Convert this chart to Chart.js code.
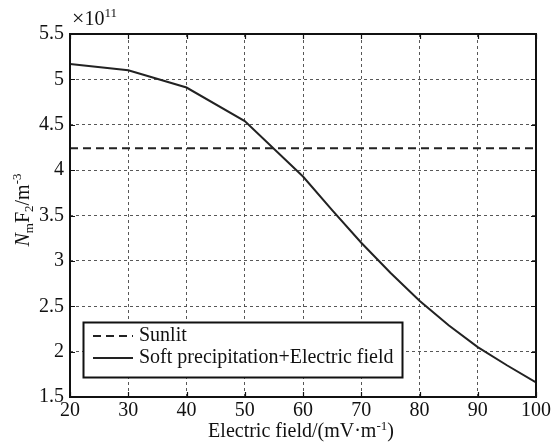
<!DOCTYPE html>
<html>
<head>
<meta charset="utf-8">
<script src="https://cdn.jsdelivr.net/npm/chart.js@4.4.0/dist/chart.umd.min.js"></script>
<style>
  body { margin: 0; background: #fff; }
  #wrap { width: 554px; height: 444px; }
</style>
</head>
<body>
<div id="wrap"><canvas id="chart" width="554" height="444"></canvas></div>
<script>
// electric field values (mV/m)
var fields = [20, 30, 40, 50, 60, 65, 70, 75, 80, 85, 90, 95, 100];
// NmF2 in units of 1e11 m^-3
var softPrecip = [5.17, 5.10, 4.91, 4.54, 3.93, 3.56, 3.20, 2.87, 2.56, 2.29, 2.05, 1.85, 1.66];
var sunlitLevel = 4.24;
var xTicks = [20, 30, 40, 50, 60, 70, 80, 90, 100];
var yTicks = [1.5, 2, 2.5, 3, 3.5, 4, 4.5, 5, 5.5];
var seriesNames = ['Sunlit', 'Soft precipitation+Electric field'];

var FONT = "'Liberation Serif', 'Times New Roman', serif";
Chart.defaults.font.family = FONT;
Chart.defaults.font.size = 20;
Chart.defaults.color = '#111';

function richText(ctx, parts, x, y) {
    // parts: [text, size, shift, italic]
    var cx = x;
    parts.forEach(function(p){
        ctx.font = (p[3] ? 'italic ' : '') + p[1] + 'px ' + FONT;
        ctx.fillText(p[0], cx, y + p[2]);
        cx += ctx.measureText(p[0]).width;
    });
}
function richWidth(ctx, parts) {
    var w = 0;
    parts.forEach(function(p){
        ctx.font = (p[3] ? 'italic ' : '') + p[1] + 'px ' + FONT;
        w += ctx.measureText(p[0]).width;
    });
    return w;
}

var decor = {
    id: 'decor',
    afterDraw: function(chart) {
        var ctx = chart.ctx;
        var a = chart.chartArea;
        var xs = chart.scales.x, ys = chart.scales.y;
        ctx.save();
        ctx.strokeStyle = '#111';
        ctx.lineWidth = 2;
        ctx.setLineDash([]);
        ctx.strokeRect(a.left, a.top, a.right - a.left, a.bottom - a.top);

        // inward ticks on all sides
        ctx.lineWidth = 1.2;
        ctx.beginPath();
        xTicks.forEach(function(v){
            var px = Math.round(xs.getPixelForValue(v)) + 0.5;
            ctx.moveTo(px, a.bottom); ctx.lineTo(px, a.bottom - 5);
            ctx.moveTo(px, a.top); ctx.lineTo(px, a.top + 5);
        });
        yTicks.forEach(function(v){
            var py = Math.round(ys.getPixelForValue(v)) + 0.5;
            ctx.moveTo(a.left, py); ctx.lineTo(a.left + 5, py);
            ctx.moveTo(a.right, py); ctx.lineTo(a.right - 5, py);
        });
        ctx.stroke();

        // legend
        var lx = 83.5, ly = 322.5, lw = 319, lh = 55;
        ctx.fillStyle = '#fff';
        ctx.fillRect(lx, ly, lw, lh);
        ctx.lineWidth = 2;
        ctx.strokeStyle = '#111';
        ctx.strokeRect(lx, ly, lw, lh);
        var rows = [336, 358];
        chart.data.datasets.forEach(function(ds, i){
            ctx.beginPath();
            ctx.lineWidth = 2;
            ctx.strokeStyle = ds.borderColor;
            ctx.setLineDash(ds.borderDash || []);
            ctx.moveTo(93, rows[i]); ctx.lineTo(133, rows[i]);
            ctx.stroke();
            ctx.setLineDash([]);
            ctx.fillStyle = '#111';
            ctx.font = '20px ' + FONT;
            ctx.textBaseline = 'middle';
            ctx.textAlign = 'left';
            ctx.fillText(ds.label, 139, rows[i]);
        });

        ctx.fillStyle = '#111';
        ctx.textBaseline = 'alphabetic';
        ctx.textAlign = 'left';
        // exponent label
        richText(ctx, [['\u00d7', 22, 0], ['10', 20, 0], ['11', 13, -8]], 72, 25);

        // x title
        var xt = [['Electric field/(mV\u00b7m', 20, 0], ['-1', 13, -7], [')', 20, 0]];
        var xw = richWidth(ctx, xt);
        richText(ctx, xt, 301 - xw / 2, 437);

        // y title
        var yt = [['N', 20, 0, true], ['m', 13, 4], ['F', 20, 0], ['2', 13, 4], ['/m', 20, 0], ['-3', 13, -8]];
        var yw = richWidth(ctx, yt);
        ctx.translate(29, 210);
        ctx.rotate(-Math.PI / 2);
        richText(ctx, yt, -yw / 2, 0);
        ctx.restore();
    }
};

var chart = new Chart(document.getElementById('chart'), {
    type: 'line',
    data: {
        datasets: [
            {
                label: seriesNames[0],
                data: [{x: fields[0], y: sunlitLevel}, {x: fields[fields.length - 1], y: sunlitLevel}],
                borderColor: '#222',
                borderWidth: 2,
                borderDash: [8, 5],
                pointRadius: 0,
                fill: false
            },
            {
                label: seriesNames[1],
                data: fields.map(function(f, i){ return {x: f, y: softPrecip[i]}; }),
                borderColor: '#222',
                borderWidth: 2,
                pointRadius: 0,
                tension: 0,
                fill: false
            }
        ]
    },
    plugins: [decor],
    options: {
        responsive: false,
        animation: false,
        layout: { padding: { top: 34, right: 18, left: 0, bottom: 0 } },
        plugins: { legend: { display: false }, tooltip: { enabled: false } },
        scales: {
            x: {
                type: 'linear',
                min: 20, max: 100,
                afterBuildTicks: function(s){ s.ticks = xTicks.map(function(v){ return {value: v}; }); },
                afterFit: function(s){ s.height = 47; },
                ticks: { padding: 2, maxRotation: 0, color: '#111', font: { size: 20 } },
                grid: { color: '#444', lineWidth: 0.9, drawTicks: false },
                border: { display: false, dash: [3, 3] }
            },
            y: {
                type: 'linear',
                min: 1.5, max: 5.5,
                afterBuildTicks: function(s){ s.ticks = yTicks.map(function(v){ return {value: v}; }); },
                afterFit: function(s){ s.width = 70; },
                ticks: {
                    padding: 6, color: '#111', font: { size: 20 },
                    callback: function(v){ return String(v); }
                },
                grid: { color: '#444', lineWidth: 0.9, drawTicks: false },
                border: { display: false, dash: [3, 3] }
            }
        }
    }
});
</script>
</body>
</html>
